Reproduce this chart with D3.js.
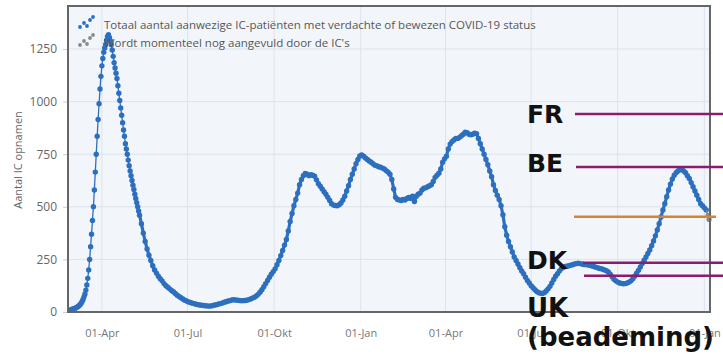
<!DOCTYPE html>
<html><head><meta charset="utf-8">
<script src="https://cdn.jsdelivr.net/npm/d3@7"></script>
<style>
html,body{margin:0;padding:0;background:#fff;}
svg{display:block;}
</style></head><body>
<svg id="chart" width="723" height="356"></svg>
<script>
// ---- data ----
const dailyStart = "2020-02-27";
const dailyValues = [8,10,12,
 14,15,17,19,21,24,27,31,36,42,50,60,72,86,104,128,160,200,250,310,370,435,500,580,665,750,835,915,990,1060,1120,
 1170,1205,1235,1255,1272,1292,1310,1318,1305,1290,1270,1245,1215,1185,1160,1135,1110,1075,1040,1005,970,935,900,865,835,800,775,750,722,695,
 670,648,625,603,582,560,540,520,500,480];
const twoDayStart = "2020-05-11";
const twoDayValues = [
 460,420,375,335,300,270,245,220,200,185,170,
 158,148,135,125,118,110,102,96,88,80,74,68,62,56,52,
 48,45,42,40,37,35,33,32,31,30,29,28,29,31,33,
 35,38,40,43,46,49,52,54,57,58,57,56,55,54,54,55,
 56,59,62,66,70,76,84,94,106,120,135,150,165,180,192,
 205,225,245,268,292,318,345,385,430,468,505,535,565,605,630,
 648,658,655,648,652,650,645,628,610,598,585,572,560,545,530,
 515,508,506,505,510,518,532,550,575,600,630,655,680,705,725,742,
 746,740,732,725,718,712,705,698,695,690,688,684,680,672,665,
 655,630,585,545,535,532,530,535,532,540,545,540,550,525,
 550,560,565,580,588,590,595,600,605,620,640,650,660,680,712,728,
 740,775,798,810,818,825,825,830,838,845,855,852,845,842,845,
 850,848,825,800,775,750,725,700,670,643,605,578,555,535,505,
 462,405,365,335,310,285,262,245,228,210,195,182,165,150,138,
 125,115,106,98,92,89,88,92,100,110,122,138,155,170,182,195,
 205,212,216,218,220,222,225,228,230,232,230,228,226,225,224,
 222,220,217,214,211,208,206,203,200,196,190,180,168,156,148,
 142,138,136,134,135,138,142,148,158,170,184,198,214,230,246,262,
 278,295,315,338,362,390,420,452,485,515,548,580,608,632,650,
 662,670,676,678,670,662,648,635,615,595,575,555,535,515,505,
 495,485];
const pendingDates = ["2022-01-05","2022-01-06"];
const pendingValues = [458, 440];

const yTicks = [0,250,500,750,1000,1250];
const xTickDates = ["2020-04-01","2020-07-01","2020-10-01","2021-01-01","2021-04-01","2021-07-01","2021-10-01","2022-01-01"];
const xTickLabels = ["01-Apr","01-Jul","01-Okt","01-Jan","01-Apr","01-Jul","01-Okt","01-Jan"];
const legendLabels = ["Totaal aantal aanwezige IC-patiënten met verdachte of bewezen COVID-19 status",
                      "Wordt momenteel nog aangevuld door de IC's"];
const yAxisTitle = "Aantal IC opnamen";

const refLabels = ["FR","BE","","DK","UK"];
const refSubLabels = ["","","","","(beademing)"];
const refValues = [941, 689, 453, 234, 172];
const refKinds = ["purple","purple","orange","purple","purple"];

// ---- styles ----
const BLUE = "#2d6fbf", GRAY = "#8a8a8a";
const PURPLE = "#8c1d6e", ORANGE = "#d4852f";
const TXT = "#666";

// ---- build series ----
const parse = d3.utcParse("%Y-%m-%d");
const daily = dailyValues.map((v,i)=>({date:d3.utcDay.offset(parse(dailyStart), i), value:v}));
const twoDay = twoDayValues.map((v,i)=>({date:d3.utcDay.offset(parse(twoDayStart), 2*i), value:v}));
const series = daily.concat(twoDay);
const pending = pendingDates.map((d,i)=>({date:parse(d), value:pendingValues[i]}));

const svg = d3.select("#chart");
const L = 68, R = 710, T = 6, B = 312;

const x = d3.scaleUtc().domain([Date.UTC(2020,1,25), Date.UTC(2022,0,7)]).range([L,R]);
const y = d3.scaleLinear().domain([0,1250]).range([B,49]);

// plot background
svg.append("rect").attr("x",L).attr("y",T).attr("width",R-L).attr("height",B-T).attr("fill","#f2f6fb");

// gridlines
svg.append("g").selectAll("line").data(yTicks.filter(d=>d>0)).join("line")
  .attr("x1",L).attr("x2",R).attr("y1",d=>y(d)).attr("y2",d=>y(d))
  .attr("stroke","#dde3ea").attr("stroke-width",1);
svg.append("g").selectAll("line").data(xTickDates.map(parse)).join("line")
  .attr("x1",d=>x(d)).attr("x2",d=>x(d)).attr("y1",T).attr("y2",B)
  .attr("stroke","#dde3ea").attr("stroke-width",1);

// axes
const yAxis = svg.append("g").attr("transform",`translate(${L},0)`)
  .call(d3.axisLeft(y).tickValues(yTicks).tickFormat(d3.format("d")).tickSize(5).tickPadding(6));
yAxis.select(".domain").remove();
yAxis.selectAll("line").attr("stroke","#ccc");
yAxis.selectAll("text").attr("fill",TXT).style("font-family","'Open Sans'").style("font-size","12px");

const xAxis = svg.append("g").attr("transform",`translate(0,${B})`)
  .call(d3.axisBottom(x).tickValues(xTickDates.map(parse)).tickFormat((d,i)=>xTickLabels[i]).tickSize(0).tickPadding(17));
xAxis.select(".domain").remove();
xAxis.selectAll("text").attr("fill","#777").style("font-family","'Open Sans'").style("font-size","11px");

svg.append("text").attr("transform","translate(22,160) rotate(-90)")
  .attr("text-anchor","middle").attr("fill",TXT)
  .style("font-family","'Open Sans'").style("font-size","11px").text(yAxisTitle);

// series
const line = d3.line().x(d=>x(d.date)).y(d=>y(d.value));
svg.append("path").datum(daily).attr("d",line).attr("fill","none").attr("stroke",BLUE).attr("stroke-width",1.3);
svg.append("path").datum([daily[daily.length-1]].concat(twoDay)).attr("d",line).attr("fill","none").attr("stroke",BLUE).attr("stroke-width",3.2).attr("stroke-linejoin","round");
svg.append("g").selectAll("circle").data(series).join("circle")
  .attr("cx",d=>x(d.date)).attr("cy",d=>y(d.value)).attr("r",2.7).attr("fill",BLUE);
svg.append("path").datum([series[series.length-1], ...pending]).attr("d",line).attr("fill","none").attr("stroke",GRAY).attr("stroke-width",1.5);
svg.append("g").selectAll("circle").data(pending).join("circle")
  .attr("cx",d=>x(d.date)).attr("cy",d=>y(d.value)).attr("r",2.6).attr("fill",GRAY);

// legend
const icon = [[80,27],[84,23],[87,26],[90,20],[93,17]];
[BLUE, GRAY].forEach((c,k)=>{
  svg.append("g").selectAll("circle").data(icon).join("circle")
    .attr("cx",d=>d[0]).attr("cy",d=>d[1]+k*18).attr("r",1.9).attr("fill",c);
});
let legendFs = 12;
legendLabels.forEach((t,k)=>{
  const tx = svg.append("text").attr("x",104).attr("y",29+k*18).attr("fill","#555")
    .style("font-family","'Open Sans'").style("font-size","12px").text(t);
  if(k===0){
    const w = tx.node().getComputedTextLength();
    legendFs = 12*432/w;
  }
  tx.style("font-size",legendFs+"px");
});

// frame
svg.append("rect").attr("x",L).attr("y",T).attr("width",R-L).attr("height",B-T)
  .attr("fill","none").attr("stroke","#666").attr("stroke-width",2);

// reference lines and labels
const lineStart = [575,576,574,583,584];
const lineEnd = [723,723,716,723,723];
const labelDy = [9,5,0,6,41];
const labelFs = [25,25,25,25,26];
refValues.forEach((v,i)=>{
  const col = refKinds[i]==="orange"?ORANGE:PURPLE;
  svg.append("line").attr("x1",lineStart[i]).attr("x2",lineEnd[i]).attr("y1",y(v)).attr("y2",y(v))
    .attr("stroke",col).attr("stroke-width",2.4);
  if(refLabels[i]){
    svg.append("text").attr("x",527).attr("y",y(v)+labelDy[i]).attr("fill","#111")
      .style("font-family","'DejaVu Sans'").style("font-weight","bold").style("font-size",labelFs[i]+"px")
      .text(refLabels[i]);
  }
  if(refSubLabels[i]){
    const st = svg.append("text").attr("x",527).attr("y",y(v)+labelDy[i]+29).attr("fill","#111")
      .style("font-family","'DejaVu Sans'").style("font-weight","bold").style("font-size",labelFs[i]+"px")
      .text(refSubLabels[i]);
    const w = st.node().getComputedTextLength();
    if(w > 192) st.style("font-size",(labelFs[i]*192/w)+"px");
  }
});
</script>
</body></html>
